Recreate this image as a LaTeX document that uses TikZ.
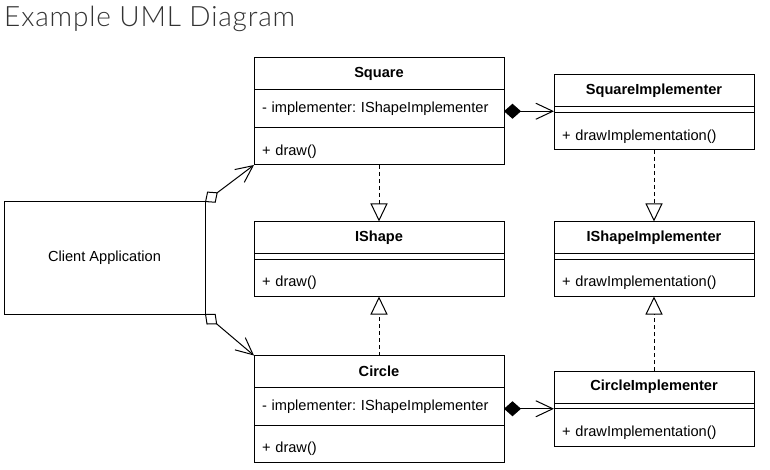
\documentclass[tikz,border=0pt]{standalone}
\usepackage{fontspec}
\setmainfont{Liberation Sans}
\newfontfamily\titlefont{Lato Light}[LetterSpace=3]
\usetikzlibrary{positioning}
\usetikzlibrary{arrows, arrows.meta}

\definecolor{titlegray}{HTML}{333333}
\newcommand\umlsize{\fontsize{14.6pt}{17pt}\selectfont}
\frenchspacing

\begin{document}
\begin{tikzpicture}[x=1pt, y=-1pt]

\useasboundingbox (0, 0) rectangle (770, 470) ;

\def\classwidth{250pt}
\def\classtext{234pt}
\def\implwidth{200pt}
\def\impltext{184pt}
\def\headheight{32pt}
\def\rowheight{37.5pt}
\def\gapheight{5.5pt}

% title

\node [anchor=base west, inner sep=0pt, color=titlegray, font=\titlefont\fontsize{28pt}{32pt}\selectfont]
	(title) at (4, 27) {Example UML Diagram} ;

% class boxes

\tikzstyle{uml box} = [draw, line width=1pt, outer sep=0pt, font=\umlsize]
\tikzstyle{class head} = [uml box, inner sep=0pt, minimum height=\headheight, font=\umlsize\bfseries]
\tikzstyle{class attr} = [uml box, inner xsep=8pt, inner ysep=0pt, align=left, minimum height=\rowheight]
\tikzstyle{class ops} = [class attr, text height=22pt, text depth=4pt]
\tikzstyle{class gap} = [uml box, inner sep=0pt, minimum height=\gapheight]

\node [uml box, inner sep=0pt, minimum width=201pt, minimum height=112pt]
	(client) at (104.5, 258) {Client Application} ;

\foreach \cname/\ctitle/\ctop in {square/Square/58, circle/Circle/355.5} {
	\node [class head, minimum width=\classwidth, anchor=north] (\cname) at (379, \ctop) {\ctitle} ;
	\node [class attr, text width=\classtext, below=0pt of \cname] (\cname-attr) {- implementer: IShapeImplementer} ;
	\node [class ops, text width=\classtext, below=0pt of \cname-attr] (\cname-ops) {+ draw()} ;
}

\node [class head, minimum width=\classwidth, anchor=north] (ishape) at (379, 221.5) {IShape} ;
\node [class gap, minimum width=\classwidth, below=0pt of ishape] (ishape-gap) {} ;
\node [class ops, text width=\classtext, below=0pt of ishape-gap] (ishape-ops) {+ draw()} ;

\foreach \cname/\ctitle/\ctop in {square-impl/SquareImplementer/75, ishape-impl/IShapeImplementer/221.5, circle-impl/CircleImplementer/371} {
	\node [class head, minimum width=\implwidth, anchor=north] (\cname) at (654, \ctop) {\ctitle} ;
	\node [class gap, minimum width=\implwidth, below=0pt of \cname] (\cname-gap) {} ;
	\node [class ops, text width=\impltext, below=0pt of \cname-gap] (\cname-ops) {+ drawImplementation()} ;
}

% relations

\tikzstyle{uml line} = [line width=1pt, black]
\tikzstyle{aggregation} =
	[uml line, {Diamond[fill=white, length=16pt, width=14pt]}-{Straight Barb[length=17pt, width=16pt]}]
\tikzstyle{composition} =
	[uml line, {Diamond[length=17pt, width=15pt]}-{Straight Barb[length=17pt, width=16pt]}]
\tikzstyle{realization} =
	[uml line, dash pattern=on 4pt off 3pt, -{Triangle[open, length=18pt, width=17pt]}]

\draw [aggregation] (client.north east) -- (square-ops.south west) ;
\draw [aggregation] (client.south east) -- (circle.north west) ;

\coordinate (square-link) at ([yshift=-2.5pt]square-attr.east) ;
\coordinate (circle-link) at ([yshift=-2.5pt]circle-attr.east) ;
\draw [composition] (square-link) -- (square-link -| square-impl.west) ;
\draw [composition] (circle-link) -- (circle-link -| circle-impl.west) ;

\draw [realization] (square-ops.south) -- (ishape.north) ;
\draw [realization] (circle.north) -- (ishape-ops.south) ;
\draw [realization] (square-impl-ops.south) -- (ishape-impl.north) ;
\draw [realization] (circle-impl.north) -- (ishape-impl-ops.south) ;

\end{tikzpicture}
\end{document}
